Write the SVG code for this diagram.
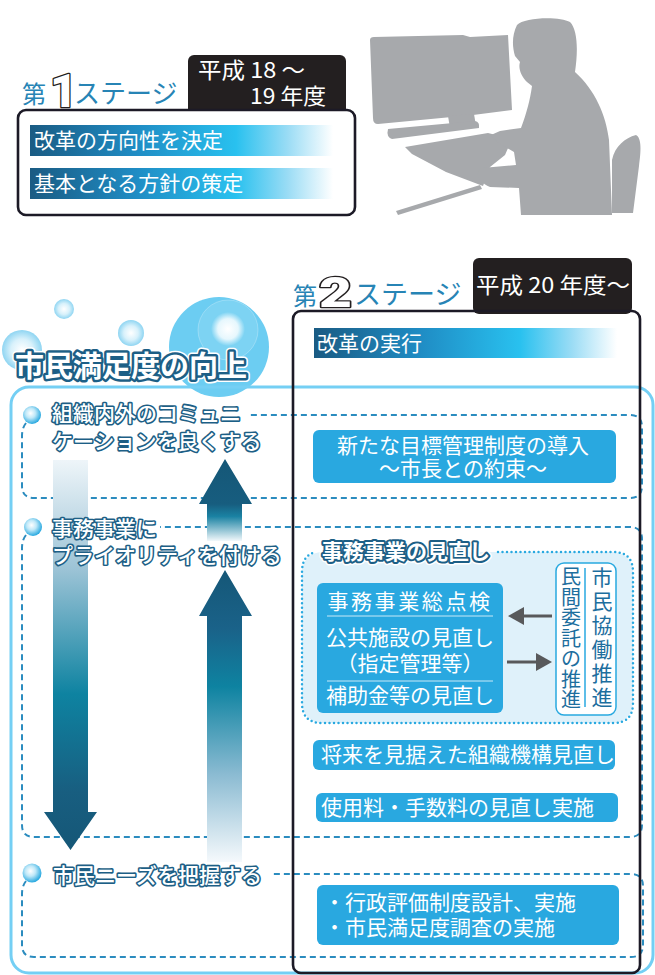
<svg xmlns="http://www.w3.org/2000/svg" width="655" height="975" viewBox="0 0 655 975">
  <defs>
    <style>
      .jp { font-family: "Noto Sans CJK JP", "Noto Sans", sans-serif; }
      .bartxt { font-family: "Noto Sans CJK JP", sans-serif; font-size: 21px; fill: #ffffff; }
      .boxtxt { font-family: "Noto Sans CJK JP", sans-serif; font-size: 21px; fill: #ffffff; }
      .tabtxt { font-family: "Noto Sans CJK JP", sans-serif; font-size: 22px; fill: #ffffff; }
      .lbl { font-family: "Noto Sans CJK JP", sans-serif; font-size: 21px; font-weight: 500; fill: #ffffff; stroke: #1d5f86; stroke-width: 3.2; stroke-linejoin: round; paint-order: stroke; }
      .stage { font-family: "Noto Sans CJK JP", sans-serif; fill: #2784b5; }
      .digit { font-family: Roboto, "Open Sans", sans-serif; font-weight: 900; fill: #ffffff; stroke: #231f20; stroke-width: 2.6; stroke-linejoin: round; paint-order: stroke; }
      .frame { fill: none; stroke: #1c1a26; stroke-width: 2.6; }
      .tab { fill: #231f20; }
      .blue { fill: #29a8e0; }
      .dash { fill: none; stroke: #2b8cbf; stroke-width: 2; stroke-dasharray: 6 4; }
      .vtxt { font-family: "Noto Sans CJK JP", sans-serif; fill: #1d6e9e; text-anchor: middle; }
      .sil { fill: #a7a9ac; }
    </style>
    <linearGradient id="barGrad" x1="0" y1="0" x2="1" y2="0">
      <stop offset="0" stop-color="#1a5b83"/>
      <stop offset="0.35" stop-color="#1f8cc4"/>
      <stop offset="0.68" stop-color="#29c1ef"/>
      <stop offset="0.85" stop-color="#9adcf5"/>
      <stop offset="1" stop-color="#ffffff"/>
    </linearGradient>
    <linearGradient id="downGrad" gradientUnits="userSpaceOnUse" x1="0" y1="460" x2="0" y2="850">
      <stop offset="0" stop-color="#eef5f9"/>
      <stop offset="0.28" stop-color="#9cc3d6"/>
      <stop offset="0.6" stop-color="#0e83a1"/>
      <stop offset="0.85" stop-color="#185e80"/>
      <stop offset="1" stop-color="#155777"/>
    </linearGradient>
    <linearGradient id="upGrad1" gradientUnits="userSpaceOnUse" x1="0" y1="459" x2="0" y2="541">
      <stop offset="0" stop-color="#155777"/>
      <stop offset="0.55" stop-color="#175d7f"/>
      <stop offset="0.7" stop-color="#1a82a3"/>
      <stop offset="1" stop-color="#f2f8fb"/>
    </linearGradient>
    <linearGradient id="upGrad2" gradientUnits="userSpaceOnUse" x1="0" y1="570" x2="0" y2="862">
      <stop offset="0" stop-color="#155777"/>
      <stop offset="0.2" stop-color="#1a6289"/>
      <stop offset="0.4" stop-color="#0e83a1"/>
      <stop offset="0.7" stop-color="#8bbbd2"/>
      <stop offset="1" stop-color="#f5f9fc"/>
    </linearGradient>
    <radialGradient id="ball" cx="0.42" cy="0.4" r="0.6">
      <stop offset="0" stop-color="#ffffff"/>
      <stop offset="0.45" stop-color="#bfe8f8"/>
      <stop offset="1" stop-color="#29a9e0"/>
    </radialGradient>
    <radialGradient id="bubble" cx="0.5" cy="0.5" r="0.5">
      <stop offset="0" stop-color="#ffffff"/>
      <stop offset="0.55" stop-color="#d8f1fb"/>
      <stop offset="1" stop-color="#8fd5f2"/>
    </radialGradient>
    <radialGradient id="glow" cx="0.5" cy="0.5" r="0.5">
      <stop offset="0" stop-color="#ffffff"/>
      <stop offset="0.6" stop-color="#e6f7fd"/>
      <stop offset="1" stop-color="#e6f7fd" stop-opacity="0"/>
    </radialGradient>
  </defs>

  <!-- person at a computer -->
  <g id="silhouette">
    <path class="sil" d="M370,40 Q370,37 374,37 L463,35 L470,37 L508,35 L512,110 L473,115 L378,124 Q373,124 373,118 Z"/>
    <path class="sil" d="M448,116 L474,114 L476,126 L450,128 Z"/>
    <path class="sil" d="M388,129 L475,121 Q480,122 479,128 L392,139 Q386,137 388,129 Z"/>
    <path class="sil" d="M405,147 L488,133 L512,139 L505,155 L490,167 L483,186 L446,172 L412,154 Z"/>
    <path class="sil" d="M396,211 L480,185 L482,189 L398,215 Z"/>
    <path class="sil" d="M517,25 C524,17 560,16 570,22 C578,30 578,52 575,72 C595,90 606,115 609,140 L612,215 L521,215 L519,188 L490,187 C478,182 474,172 482,168 L516,165 L514,152 L497,142 L491,135 L500,131 L521,128 C527,112 530,100 532,86 L527,82 C521,76 518,68 520,62 L515,56 C512,46 512,35 517,25 Z"/>
    <path class="sil" d="M612,213 L612,160 C615,146 625,138 636,135 C642,138 641,152 639,166 L633,213 Z"/>
  </g>

  <!-- stage 1 -->
  <g id="stage1">
    <text class="stage" x="22" y="103" font-size="24">第</text>
    <text class="digit" x="50" y="107" font-size="47">1</text>
    <text class="stage" x="74" y="103" font-size="26">ステージ</text>
    <rect class="tab" x="188" y="55" width="158" height="60" rx="6"/>
    <text class="tabtxt" x="198" y="78" textLength="107" lengthAdjust="spacingAndGlyphs">平成 18 ～</text>
    <text class="tabtxt" x="250" y="104" textLength="76" lengthAdjust="spacingAndGlyphs">19 年度</text>
    <rect x="18" y="110" width="337" height="105" rx="8" fill="#ffffff" stroke="#1c1a26" stroke-width="2.6"/>
    <rect x="30" y="125" width="303" height="31" fill="url(#barGrad)"/>
    <text class="bartxt" x="34" y="148">改革の方向性を決定</text>
    <rect x="30" y="168" width="303" height="31" fill="url(#barGrad)"/>
    <text class="bartxt" x="34" y="191">基本となる方針の策定</text>
  </g>

  <!-- satisfaction heading with bubbles -->
  <g id="heading">
    <circle cx="64" cy="309" r="10" fill="url(#bubble)"/>
    <circle cx="131" cy="333" r="13" fill="url(#bubble)"/>
    <circle cx="22" cy="350" r="20" fill="url(#bubble)"/>
    <circle cx="219" cy="347" r="50" fill="#6ccdf2"/>
    <circle cx="228" cy="330" r="30" fill="#ffffff" fill-opacity="0.12" stroke="#ffffff" stroke-opacity="0.25"/>
    <circle cx="228" cy="329" r="17" fill="url(#glow)"/>
  </g>

  <!-- outer frame -->
  <rect id="outer" x="11" y="387" width="642" height="586" rx="18" fill="none" stroke="#74cff4" stroke-width="3"/>

  <g id="title">
    <text class="jp" x="15" y="377" font-size="29" font-weight="700" fill="#ffffff" stroke="#ffffff" stroke-width="8" stroke-linejoin="round">市民満足度の向上</text>
    <text class="jp" x="15" y="377" font-size="29" font-weight="700" fill="#ffffff" stroke="#1d5f86" stroke-width="5" stroke-linejoin="round" paint-order="stroke">市民満足度の向上</text>
  </g>

  <!-- dashed group outlines -->
  <g id="connectors">
    <path class="dash" d="M26,423 Q22,428 22,436 V486 Q22,498 34,498 H630 Q642,498 642,486 V427 Q642,415 630,415 H247"/>
    <path class="dash" d="M26,535 Q22,540 22,548 V825 Q22,837 34,837 H630 Q642,837 642,825 V539 Q642,527 630,527 H160"/>
    <path class="dash" d="M26,881 Q22,886 22,894 V945 Q22,957 34,957 H631 Q643,957 643,945 V886 Q643,874 631,874 H270"/>
  </g>

  <!-- arrows -->
  <g id="arrows">
    <path d="M53,460 H88 V812 H97 L70.5,850 L44,812 H53 Z" fill="url(#downGrad)"/>
    <path d="M225,459 L252,504 H242 V541 H207 V504 H199 Z" fill="url(#upGrad1)"/>
    <path d="M225,570 L252,616 H242 V862 H207 V616 H199 Z" fill="url(#upGrad2)"/>
  </g>

  <!-- stage 2 -->
  <g id="stage2">
    <text class="stage" x="293" y="305" font-size="24">第</text>
    <text class="digit" x="319" y="307" font-size="43" textLength="33" lengthAdjust="spacingAndGlyphs">2</text>
    <text class="stage" x="354" y="304" font-size="27">ステージ</text>
    <rect class="tab" x="473" y="258" width="159" height="56" rx="6"/>
    <text class="tabtxt" x="476" y="293" textLength="154" lengthAdjust="spacingAndGlyphs">平成 20 年度～</text>
    <rect class="frame" x="293" y="311" width="347" height="662" rx="8"/>
    <rect x="314" y="328" width="303" height="30" fill="url(#barGrad)"/>
    <text class="bartxt" x="317" y="351">改革の実行</text>
  </g>

  <!-- left labels -->
  <g id="label-communication">
    <circle cx="32" cy="415" r="9" fill="url(#ball)"/>
    <text class="lbl" x="52" y="421">組織内外のコミュニ</text>
    <text class="lbl" x="52" y="449">ケーションを良くする</text>
  </g>
  <g id="label-priority">
    <circle cx="33" cy="527" r="9" fill="url(#ball)"/>
    <text class="lbl" x="52" y="536">事務事業に</text>
    <text class="lbl" x="52" y="563">プライオリティを付ける</text>
  </g>
  <g id="label-needs">
    <circle cx="32" cy="873" r="9.5" fill="url(#ball)"/>
    <text class="lbl" x="53" y="883">市民ニーズを把握する</text>
  </g>

  <!-- right column items -->
  <g id="goal-management">
    <rect class="blue" x="313" y="430" width="303" height="53" rx="6"/>
    <text class="boxtxt" x="463" y="453" text-anchor="middle">新たな目標管理制度の導入</text>
    <text class="boxtxt" x="463" y="476" text-anchor="middle">～市長との約束～</text>
  </g>

  <g id="review-group">
    <rect x="302" y="552" width="331" height="171" rx="20" fill="#dff1fa"/>
    <path d="M498,552 H613 Q633,552 633,572 V703 Q633,723 613,723 H322 Q302,723 302,703 V572 Q302,555 316,552" fill="none" stroke="#29a9e0" stroke-width="2.5" stroke-linecap="round" stroke-dasharray="0 4.5"/>
    <text class="jp" x="322" y="559" font-size="21" font-weight="700" fill="#ffffff" stroke="#ffffff" stroke-width="7" stroke-linejoin="round">事務事業の見直し</text>
    <text class="jp" x="322" y="559" font-size="21" font-weight="700" fill="#ffffff" stroke="#1d5f86" stroke-width="4" stroke-linejoin="round" paint-order="stroke">事務事業の見直し</text>
  </g>

  <g id="review-items">
    <rect class="blue" x="317" y="583" width="186" height="130" rx="6"/>
    <text class="boxtxt" x="410" y="609" text-anchor="middle" letter-spacing="2.6">事務事業総点検</text>
    <line x1="327" y1="616" x2="493" y2="616" stroke="#ffffff" stroke-opacity="0.75" stroke-width="1"/>
    <text class="boxtxt" x="410" y="645" text-anchor="middle">公共施設の見直し</text>
    <text class="boxtxt" x="410" y="671" text-anchor="middle">（指定管理等）</text>
    <line x1="327" y1="681" x2="493" y2="681" stroke="#ffffff" stroke-opacity="0.75" stroke-width="1"/>
    <text class="boxtxt" x="410" y="703" text-anchor="middle">補助金等の見直し</text>
  </g>

  <g id="exchange-arrows">
    <line x1="552" y1="616" x2="521" y2="616" stroke="#58595b" stroke-width="3"/>
    <path d="M508,616 L524,607 L524,625 Z" fill="#58595b"/>
    <line x1="507" y1="662" x2="538" y2="662" stroke="#58595b" stroke-width="3"/>
    <path d="M552,662 L536,653 L536,671 Z" fill="#58595b"/>
  </g>

  <g id="partnership">
    <rect x="556" y="563" width="60" height="152" rx="8" fill="#ffffff" stroke="#29a9e0" stroke-width="1.5"/>
    <line x1="585" y1="568" x2="585" y2="707" stroke="#29a9e0" stroke-width="1.5"/>
    <text class="vtxt" font-size="21" x="602 602 602 602 602 602" y="585 609 633 657 681 705">市民協働推進</text>
    <text class="vtxt" font-size="20" x="571 571 571 571 571 571 571" y="584 604.5 625 645.5 666 686.5 707">民間委託の推進</text>
  </g>

  <g id="org-review">
    <rect class="blue" x="313" y="740" width="302" height="30" rx="6"/>
    <text class="boxtxt" x="321" y="762" font-size="20.5">将来を見据えた組織機構見直し</text>
  </g>

  <g id="fee-review">
    <rect class="blue" x="316" y="793" width="302" height="29" rx="6"/>
    <text class="boxtxt" x="321" y="815">使用料・手数料の見直し実施</text>
  </g>

  <g id="evaluation">
    <rect class="blue" x="317" y="885" width="302" height="60" rx="6"/>
    <text class="boxtxt" x="324" y="910" font-size="20.7">・行政評価制度設計、実施</text>
    <text class="boxtxt" x="324" y="935" font-size="20.7">・市民満足度調査の実施</text>
  </g>
</svg>
